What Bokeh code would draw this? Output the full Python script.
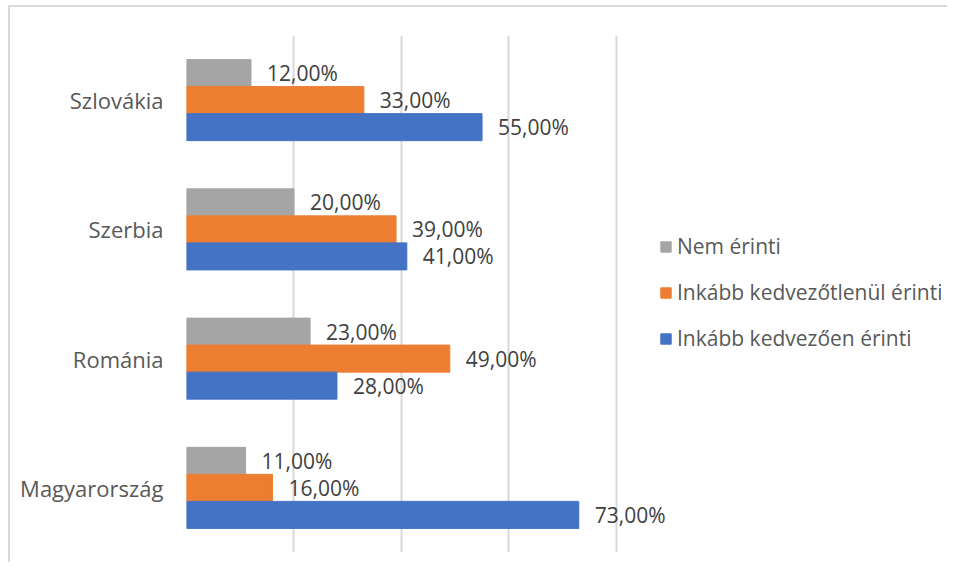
from bokeh.plotting import figure
from bokeh.models import FactorRange, Range1d, FixedTicker, Legend, LegendItem, ColumnDataSource
from bokeh.transform import dodge
from bokeh.core.properties import value
from bokeh.embed import file_html
from bokeh.resources import INLINE

countries = ["Magyarország", "Románia", "Szerbia", "Szlovákia"]
nem_erinti = [11, 23, 20, 12]
kedvezotlenul = [16, 49, 39, 33]
kedvezoen = [73, 28, 41, 55]
series_names = ["Nem érinti", "Inkább kedvezőtlenül érinti", "Inkább kedvezően érinti"]
colors = ["#a5a5a5", "#ed7d31", "#4472c4"]

FONT = "Open Sans"

p = figure(width=939, height=557, output_backend="svg", toolbar_location=None,
           y_range=FactorRange(factors=countries, range_padding=0),
           x_range=Range1d(0, 140.5),
           min_border_left=176, min_border_top=28, min_border_right=8, min_border_bottom=12)
p.styles = {"border-left": "2px solid #d9d9d9", "border-top": "2px solid #d9d9d9",
            "margin-left": "8px", "margin-top": "5px"}
p.outline_line_color = None
p.background_fill_color = "white"
p.border_fill_color = "white"

p.xaxis.visible = False
p.xaxis.ticker = FixedTicker(ticks=[0, 20, 40, 60, 80])
p.xgrid.ticker = FixedTicker(ticks=[0, 20, 40, 60, 80])
p.xgrid.grid_line_color = "#d9d9d9"
p.xgrid.grid_line_width = 2
p.ygrid.grid_line_color = None

p.yaxis.axis_line_color = None
p.yaxis.major_tick_line_color = None
p.yaxis.minor_tick_line_color = None
p.yaxis.major_label_standoff = 17
p.yaxis.major_label_text_font = FONT
p.yaxis.major_label_text_font_size = "22px"
p.yaxis.major_label_text_color = "#595959"

src = ColumnDataSource(dict(country=countries, a=nem_erinti, b=kedvezotlenul, c=kedvezoen,
                            la=[f"{v:.2f}".replace(".", ",") + "%" for v in nem_erinti],
                            lb=[f"{v:.2f}".replace(".", ",") + "%" for v in kedvezotlenul],
                            lc=[f"{v:.2f}".replace(".", ",") + "%" for v in kedvezoen]))

h = 0.209
offsets = [h, 0, -h]
keys = ["a", "b", "c"]
lkeys = ["la", "lb", "lc"]
renderers = []
for key, lk, off, col in zip(keys, lkeys, offsets, colors):
    r = p.hbar(y=dodge("country", off, range=p.y_range), right=key, left=0, height=h,
               color=col, line_color=col, source=src)
    renderers.append(r)
    p.text(x=key, y=dodge("country", off, range=p.y_range), text=lk, source=src,
           x_offset=16, text_align="left", text_baseline="middle",
           text_font=value(FONT), text_font_size="21px", text_color="#404040")

legend = Legend(items=[LegendItem(label=n, renderers=[r]) for n, r in zip(series_names, renderers)],
                location=(473, 200), orientation="vertical",
                glyph_width=13, glyph_height=13, label_height=28, spacing=18,
                label_standoff=5, padding=0, margin=0,
                border_line_color=None, background_fill_alpha=0,
                label_text_font=FONT, label_text_font_size="21px", label_text_color="#595959")
p.add_layout(legend)

open("out.html", "w").write(file_html(p, INLINE))
